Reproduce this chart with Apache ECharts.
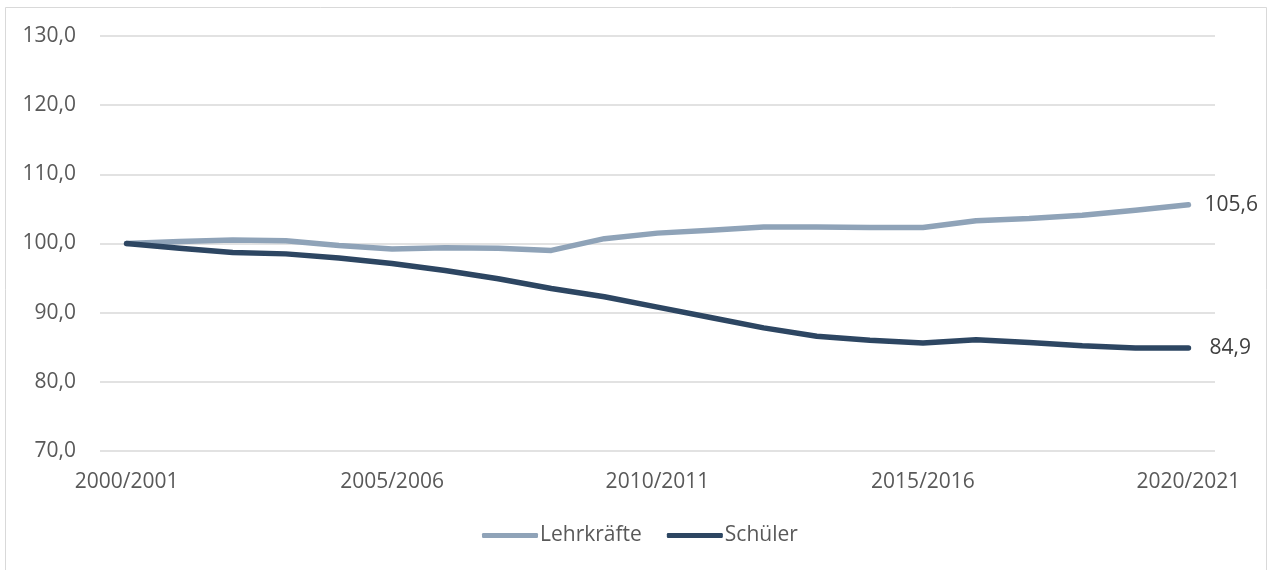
<!DOCTYPE html>
<html>
<head>
<meta charset="utf-8">
<title>Lehrkräfte und Schüler</title>
<script src="https://cdn.jsdelivr.net/npm/echarts@6/dist/echarts.min.js"></script>
<style>
    html, body { margin: 0; padding: 0; background: #fff; }
    #chart { width: 1268px; height: 570px; }
</style>
</head>
<body>
<div id="chart"></div>
<script>
// Schuljahre
var years = ['2000/2001', '2001/2002', '2002/2003', '2003/2004', '2004/2005',
    '2005/2006', '2006/2007', '2007/2008', '2008/2009', '2009/2010',
    '2010/2011', '2011/2012', '2012/2013', '2013/2014', '2014/2015',
    '2015/2016', '2016/2017', '2017/2018', '2018/2019', '2019/2020', '2020/2021'];

// Index 2000/2001 = 100
var lehrkraefte = [100.0, 100.3, 100.5, 100.4, 99.7, 99.2, 99.4, 99.3, 99.0, 100.7,
    101.5, 101.9, 102.4, 102.4, 102.3, 102.3, 103.3, 103.6, 104.1, 104.8, 105.6];
var schueler = [100.0, 99.3, 98.7, 98.5, 97.9, 97.1, 96.1, 94.9, 93.5, 92.3,
    90.8, 89.3, 87.8, 86.6, 86.0, 85.6, 86.1, 85.7, 85.2, 84.9, 84.9];

var seriesNames = ['Lehrkräfte', 'Schüler'];
var yTicks = { min: 70, max: 130, step: 10 };

var textColor = '#595959';
var fontFamily = '"Open Sans", "Noto Sans", sans-serif';
var fontSize = 21;

function fmt(v) {
    return v.toFixed(1).replace('.', ',');
}

var chart = echarts.init(document.getElementById('chart'));

chart.setOption({
    animation: false,
    backgroundColor: '#fff',
    textStyle: { fontFamily: fontFamily, color: textColor },
    graphic: [{
        type: 'rect',
        shape: { x: 5.5, y: 7.5, width: 1261, height: 600 },
        style: { fill: 'none', stroke: '#d9d9d9', lineWidth: 1 },
        silent: true
    }],
    grid: { left: 100, right: 53, top: 36, bottom: 119 },
    legend: {
        data: seriesNames,
        left: 477,
        top: 520,
        itemWidth: 56,
        itemHeight: 5,
        itemGap: 25,
        icon: 'roundRect',
        textStyle: { fontSize: fontSize, color: textColor, fontFamily: fontFamily, padding: [0, 0, 0, -3] }
    },
    xAxis: {
        type: 'category',
        data: years,
        boundaryGap: true,
        axisLine: { show: false },
        axisTick: { show: false },
        axisLabel: {
            interval: 4,
            margin: 21,
            fontSize: fontSize,
            color: textColor,
            fontFamily: fontFamily
        }
    },
    yAxis: {
        type: 'value',
        min: yTicks.min,
        max: yTicks.max,
        interval: yTicks.step,
        axisLine: { show: false },
        axisTick: { show: false },
        axisLabel: {
            margin: 24,
            fontSize: fontSize,
            color: textColor,
            fontFamily: fontFamily,
            formatter: function(v) { return fmt(v); }
        },
        splitLine: { lineStyle: { color: '#d9d9d9', width: 1.5 } }
    },
    series: [{
        name: seriesNames[0],
        type: 'line',
        data: lehrkraefte,
        showSymbol: false,
        color: '#8fa3b8',
        lineStyle: { width: 5.5, cap: 'round', join: 'round', color: '#8fa3b8' },
        endLabel: {
            show: true,
            distance: 16,
            fontSize: fontSize,
            color: '#404040',
            fontFamily: fontFamily,
            formatter: function(p) { return fmt(p.value); }
        }
    }, {
        name: seriesNames[1],
        type: 'line',
        data: schueler,
        showSymbol: false,
        color: '#2d4662',
        lineStyle: { width: 5.5, cap: 'round', join: 'round', color: '#2d4662' },
        endLabel: {
            show: true,
            distance: 21,
            fontSize: fontSize,
            color: '#404040',
            fontFamily: fontFamily,
            formatter: function(p) { return fmt(p.value); }
        }
    }]
});
</script>
</body>
</html>
